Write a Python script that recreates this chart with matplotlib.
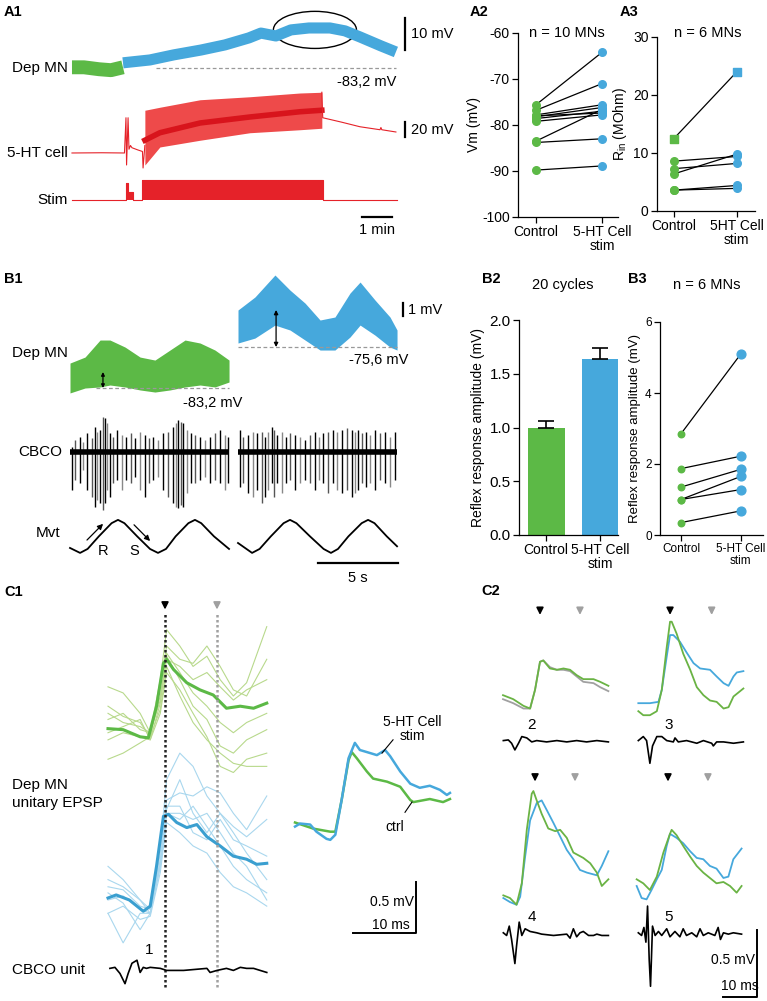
import numpy as np
import matplotlib
matplotlib.use('Agg')
import matplotlib.pyplot as plt
from matplotlib.patches import Ellipse

plt.rcParams['font.family'] = ['Liberation Sans', 'DejaVu Sans']
plt.rcParams['axes.unicode_minus'] = False

W, H = 767, 1001
GREEN = '#5cb946'
BLUE = '#46a8dc'
RED = '#e52229'
LGREEN = '#b8d98c'
LBLUE = '#a9d7ee'
GREY = '#a0a0a0'

# ---------------- data ----------------
# A1 : Dep MN membrane potential (min, mV)
mn_ctrl_t = [0, 0.4, 0.9, 1.3, 1.7]
mn_ctrl_v = [-83.0, -83.0, -83.6, -83.9, -83.0]
mn_stim_t = [1.7, 2.6, 3.4, 4.3, 5.1, 5.9, 6.3, 6.8, 7.3, 7.9, 8.6, 9.1, 9.6, 10.3, 10.8]
mn_stim_v = [-81.6, -80.7, -79.1, -77.6, -76.0, -73.8, -72.3, -73.2, -71.3, -70.7, -70.7,
             -71.6, -73.5, -76.3, -78.2]
# A1 : 5-HT cell (mV relative to rest)
ht_pre_t = [0, 1.0, 1.75, 1.8, 1.82, 1.87, 1.9, 1.95, 2.0, 2.2, 2.35, 2.37, 2.43]
ht_pre_v = [0, 0.3, 0, 47, -16, 47, 5, 10, 7, 4, 2, -20, 10]
ht_band_t = [2.43, 2.93, 4.27, 5.93, 7.6, 8.33]
ht_band_lo = [-16, 8, 17, 27, 31, 33]
ht_band_hi = [57, 61, 71, 75, 80, 81]
ht_band_mid = [17, 27, 40, 48, 55, 57]
ht_post_t = [8.33, 8.36, 9.0, 9.6, 10.27, 10.3, 10.33, 10.8]
ht_post_v = [81, 47, 41, 35, 31, 34, 31, 28]
# A1 : stimulation command
stim_t = [0, 1.8, 1.8, 1.87, 1.87, 2.03, 2.03, 2.33, 2.33, 8.37, 8.37, 10.83]
stim_v = [0, 0, 0.85, 0.85, 0.4, 0.4, 0, 0, 1, 1, 0, 0]

# A2 : Vm (mV)
a2_ctrl = [-75.6, -76.8, -77.8, -78.2, -78.6, -79.2, -83.5, -83.8, -89.8, -78.0]
a2_stim = [-64.2, -71.0, -75.6, -76.2, -77.0, -77.8, -76.6, -83.0, -88.9, -77.4]
# A3 : Rin (MOhm); first cell drawn as squares
a3_ctrl = [12.5, 8.6, 7.3, 6.4, 3.6, 3.6]
a3_stim = [24.0, 9.4, 8.2, 9.8, 4.4, 3.9]

# B1 : Dep MN envelope (s, mV above baseline)
b1g_t = [0, 0.94, 1.88, 2.5, 3.44, 4.38, 5.31, 6.25, 7.19, 8.13, 9.06, 9.94]
b1g_hi = [1.92, 2.38, 3.69, 3.69, 3.15, 2.38, 2.15, 2.92, 3.69, 3.46, 2.92, 2.15]
b1g_lo = [-0.38, 0, 0.08, 0.23, 0.08, -0.15, -0.31, -0.15, 0.08, 0.23, 0.08, 0.46]
b1b_t = [0, 1.06, 2.31, 3.25, 4.19, 5.13, 6.06, 7.0, 7.63, 8.56, 9.5, 9.94]
b1b_hi = [2.85, 3.85, 5.54, 4.38, 3.38, 2.08, 2.31, 4.15, 5.0, 3.62, 2.31, 1.31]
b1b_lo = [0.31, 0.69, 1.69, 1.31, 0.54, -0.23, -0.23, 0.77, 1.69, 0.92, 0, -0.23]
# B1 : CBCO spikes (s, up, down) control
cb_l_t = [0.10, 0.31, 0.63, 0.83, 1.08, 1.35, 1.56, 1.71, 1.88, 2.04, 2.19, 2.33, 2.5, 2.71,
          2.96, 3.23, 3.5, 3.79, 4.06, 4.38, 4.69, 4.96, 5.21, 5.52, 5.83, 6.15, 6.42, 6.63,
          6.77, 6.92, 7.08, 7.29, 7.54, 7.81, 8.13, 8.44, 8.75, 9.06, 9.38, 9.69, 9.9]
cb_l_up = [0.13, 0.3, 0.38, 0.26, 0.47, 0.34, 0.63, 0.51, 0.55, 0.88, 0.84, 0.72, 0.47, 0.38,
           0.55, 0.43, 0.38, 0.47, 0.34, 0.51, 0.43, 0.34, 0.38, 0.3, 0.47, 0.51, 0.63, 0.72,
           0.8, 0.76, 0.72, 0.55, 0.47, 0.43, 0.38, 0.3, 0.38, 0.47, 0.55, 0.43, 0.38]
cb_l_dn = [-0.95, -0.7, -0.78, -0.45, -0.95, -1.12, -1.37, -1.2, -1.28, -1.45, -1.28, -0.95,
           -1.12, -0.78, -0.7, -0.95, -0.7, -0.78, -0.62, -0.95, -1.12, -0.78, -0.7, -0.62,
           -0.95, -1.12, -1.28, -1.37, -1.41, -1.33, -1.37, -1.03, -0.78, -0.78, -0.7, -0.62,
           -0.78, -0.7, -0.78, -0.95, -0.78]
# B1 : CBCO spikes, 5-HT cell stim
cb_r_t = [0.13, 0.33, 0.65, 0.96, 1.21, 1.48, 1.69, 1.9, 2.1, 2.25, 2.46, 2.73, 3.0, 3.25,
          3.56, 3.88, 4.19, 4.5, 4.81, 5.08, 5.33, 5.65, 5.96, 6.21, 6.48, 6.79, 7.1, 7.31,
          7.52, 7.73, 8.0, 8.25, 8.56, 8.88, 9.19, 9.5, 9.81]
cb_r_up = [0.55, 0.38, 0.43, 0.51, 0.47, 0.51, 0.38, 0.51, 0.63, 0.55, 0.43, 0.51, 0.38, 0.47,
           0.43, 0.38, 0.3, 0.43, 0.51, 0.38, 0.47, 0.51, 0.55, 0.51, 0.55, 0.59, 0.55, 0.51,
           0.55, 0.47, 0.51, 0.43, 0.55, 0.47, 0.51, 0.38, 0.51]
cb_r_dn = [-0.87, -0.78, -1.03, -1.12, -0.95, -1.28, -1.12, -0.95, -0.78, -1.12, -0.78, -1.03,
           -0.78, -0.7, -0.95, -0.78, -0.7, -0.78, -0.95, -0.7, -0.78, -1.03, -0.78, -0.95,
           -1.03, -0.95, -1.12, -1.03, -0.95, -0.78, -0.87, -0.78, -0.95, -0.7, -0.78, -0.87,
           -0.7]
# B1 : movement
mvt_l_t = [0, 0.63, 1.1, 1.8, 2.6, 3.0, 3.4, 4.2, 5.0, 5.5, 6.0, 6.6, 7.4, 7.81, 8.2, 9.0, 9.94]
mvt_l_v = [0.15, 0, 0.12, 0.5, 0.9, 1.0, 0.9, 0.5, 0.12, 0, 0.12, 0.5, 0.9, 1.0, 0.9, 0.5, 0.12]
mvt_r_t = [0, 0.88, 1.35, 2.05, 2.85, 3.25, 3.65, 4.5, 5.35, 5.81, 6.25, 6.9, 7.73, 8.13, 8.53,
           9.3, 9.94]
mvt_r_v = [0.3, 0, 0.12, 0.5, 0.9, 1.0, 0.9, 0.5, 0.12, 0, 0.12, 0.5, 0.9, 1.0, 0.9, 0.5, 0.2]

# B2 : mean reflex amplitude (mV) and SEM
b2_mean = [1.0, 1.64]
b2_sem = [0.06, 0.1]
# B3 : reflex amplitude per MN (mV)
b3_ctrl = [2.85, 1.87, 1.35, 1.0, 1.0, 0.35]
b3_stim = [5.1, 2.22, 1.85, 1.65, 1.28, 0.68]

# C1 : unitary EPSPs (ms, mV)
c1_grid = [0, 2.4, 5.1, 6.7, 8.3, 9.3, 11.4, 13.5, 15.7, 17.8, 19.9, 22.0, 25.2]
c1_green_trials = [
    [0.42, 0.36, 0.16, -0.03, 0.49, 0.98, 0.82, 0.62, 0.72, 0.49, 0.33, 0.46, 1.01],
    [0.16, 0.07, 0.03, -0.03, 0.33, 0.72, 0.49, 0.23, 0.1, -0.16, -0.23, -0.1, 0],
    [-0.1, -0.03, -0.07, -0.1, 0.16, 0.56, 0.39, 0.16, -0.07, -0.36, -0.42, -0.29, -0.23],
    [-0.29, -0.23, -0.13, -0.07, 0.2, 0.62, 0.33, 0.07, -0.1, -0.23, -0.33, -0.36, -0.36],
    [0.1, 0.16, 0, -0.03, 0.29, 0.69, 0.62, 0.49, 0.56, 0.42, 0.29, 0.39, 0.49],
    [-0.03, 0.03, 0.1, -0.1, 0.26, 0.75, 0.56, 0.36, 0.23, 0.07, -0.03, 0.07, 0.16],
    [0.23, 0.13, 0.07, -0.07, 0.42, 0.82, 0.69, 0.65, 0.82, 0.62, 0.39, 0.33, 0.69],
]
c1_blue_trials = [
    [0.18, 0.11, -0.02, -0.11, 0.51, 1.16, 1.42, 1.29, 1.0, 0.83, 0.64, 0.44, 0.18],
    [-0.02, 0.02, -0.11, -0.15, 0.31, 0.83, 0.83, 0.77, 0.83, 0.64, 0.44, 0.31, -0.02],
    [-0.15, -0.08, -0.21, -0.18, 0.25, 0.74, 0.64, 0.51, 0.44, 0.25, 0.11, 0.05, -0.08],
    [0.31, 0.18, -0.02, -0.15, 0.44, 0.96, 1.03, 1.0, 1.09, 1.03, 0.83, 0.67, 1.0],
    [0.05, -0.05, -0.31, -0.15, 0.38, 0.9, 0.9, 0.64, 0.57, 0.77, 0.57, 0.51, 0.41],
    [0.11, 0.08, -0.08, -0.11, 0.34, 0.83, 0.77, 0.9, 0.7, 0.51, 0.31, 0.18, 0.05],
    [-0.15, -0.44, -0.15, -0.15, 0.31, 0.87, 1.16, 0.83, 0.64, 0.83, 0.7, 0.6, 0.77],
]
c1g_t = [0, 2.4, 5.1, 6.4, 7.7, 8.8, 9.3, 10.4, 12.5, 14.6, 16.7, 18.8, 21.0, 23.1, 25.2]
c1g_v = [0.01, 0, -0.07, -0.08, 0.23, 0.65, 0.69, 0.59, 0.46, 0.39, 0.34, 0.21, 0.23, 0.21, 0.26]
c1b_t = [0, 1.3, 3.4, 5.6, 6.7, 7.7, 8.8, 9.6, 10.9, 12.5, 14.1, 15.7, 17.8, 19.9, 22.0, 23.6, 25.2]
c1b_v = [0, 0.03, -0.02, -0.13, -0.08, 0.31, 0.8, 0.82, 0.74, 0.69, 0.72, 0.6, 0.51, 0.41, 0.38,
         0.33, 0.34]
c1u_t = [0.3, 1.1, 1.9, 2.7, 3.2, 3.8, 4.6, 5.1, 5.6, 6.1, 6.7, 8.3, 9.3, 12.0, 15.7, 16.2,
         17.3, 18.8, 19.9, 21.0, 22.0, 23.1, 25.2]
c1u_v = [0, 0.01, -0.05, -0.15, -0.05, 0.05, 0.08, -0.04, 0.01, 0, 0.01, 0, -0.02, -0.02, 0,
         -0.04, -0.02, 0, -0.02, 0.01, 0, 0, -0.04]
# C1 : averaged EPSPs superimposed
c1m_g_t = [0, 2.9, 5.6, 6.4, 7.4, 8.5, 9.0, 9.8, 11.4, 12.4, 14.6, 16.7, 18.3, 18.8, 21.4, 23.5, 24.6]
c1m_g_v = [0.09, 0.03, 0, 0, 0.31, 0.7, 0.78, 0.72, 0.59, 0.52, 0.49, 0.44, 0.31, 0.29, 0.32,
           0.29, 0.32]
c1m_b_t = [0, 0.8, 2.4, 3.4, 5.0, 5.6, 6.4, 7.4, 8.5, 9.5, 10.3, 11.4, 13.0, 14.3, 15.1, 16.7,
           18.3, 19.8, 21.4, 23.0, 24.1, 24.6]
c1m_b_v = [0.05, 0.08, 0.07, 0, -0.07, -0.08, -0.03, 0.31, 0.72, 0.87, 0.8, 0.78, 0.75, 0.8,
           0.74, 0.59, 0.47, 0.43, 0.45, 0.41, 0.36, 0.38]

# C2 : units 2-5 (ms, mV)
u2_t = [0, 3.1, 6.2, 8.2, 9.7, 11.2, 12.2, 14.2, 16.3, 18.3, 20.3, 22.3, 24.3, 27.4, 29.4, 31.9]
u2_green = [0.1, 0.07, 0.02, 0, 0.14, 0.35, 0.36, 0.3, 0.29, 0.3, 0.29, 0.25, 0.22, 0.22, 0.2, 0.17]
u2_grey = [0.07, 0.04, 0, 0, 0.14, 0.35, 0.36, 0.31, 0.29, 0.29, 0.28, 0.24, 0.2, 0.19, 0.16, 0.13]
u2_cb_t = [0.1, 1.6, 2.6, 3.6, 4.7, 5.7, 7.2, 8.7, 10.2, 13.2, 16.3, 19.3, 22.3, 25.3, 28.4, 31.9]
u2_cb_v = [0, 0.005, -0.02, -0.07, -0.02, 0.03, 0.02, -0.01, 0, -0.01, 0, -0.01, 0, -0.01, 0, -0.01]

u3_g_t = [0.1, 1.6, 3.6, 5.7, 7.2, 8.7, 9.7, 10.2, 11.7, 13.7, 15.8, 17.8, 19.8, 21.8, 23.8, 25.9,
          27.4, 28.9, 31.9]
u3_g_v = [-0.02, -0.05, -0.05, -0.02, 0.14, 0.46, 0.65, 0.65, 0.56, 0.41, 0.29, 0.16, 0.1, 0.06,
          0.05, 0, 0.01, 0.09, 0.15]
u3_b_t = [0.1, 3.6, 6.2, 7.2, 8.7, 9.7, 10.7, 12.7, 14.7, 16.8, 18.8, 21.8, 23.8, 25.9, 27.4,
          28.9, 29.9, 31.9]
u3_b_v = [0.04, 0.04, 0.05, 0.14, 0.39, 0.55, 0.55, 0.5, 0.42, 0.34, 0.3, 0.29, 0.24, 0.19, 0.17,
          0.24, 0.27, 0.28]
u3_cb_t = [0.1, 1.6, 2.6, 3.6, 4.4, 5.7, 7.2, 8.7, 10.7, 11.2, 12.2, 14.7, 17.8, 19.8, 22.3,
           22.8, 23.8, 25.9, 28.9, 31.9]
u3_cb_v = [0, 0.03, 0, -0.17, -0.04, 0.03, 0.03, 0, -0.01, 0.02, -0.01, 0, -0.02, 0, -0.02,
           -0.04, -0.01, -0.01, -0.02, -0.01]

u4_g_t = [0.1, 2.1, 4.1, 5.7, 7.2, 8.7, 9.2, 10.2, 11.7, 13.7, 15.8, 17.3, 19.3, 21.3, 24.3,
          26.4, 28.4, 29.9, 31.9]
u4_g_v = [0.07, 0.05, 0, 0.16, 0.56, 0.83, 0.85, 0.78, 0.68, 0.57, 0.55, 0.56, 0.5, 0.39, 0.35,
          0.31, 0.24, 0.14, 0.19]
u4_b_t = [0.1, 2.1, 4.1, 5.2, 6.7, 8.2, 10.2, 11.7, 13.2, 15.3, 17.3, 19.3, 21.3, 23.3, 25.4,
          28.4, 29.9, 31.9]
u4_b_v = [0.05, 0.02, 0, 0.06, 0.36, 0.63, 0.76, 0.78, 0.71, 0.61, 0.51, 0.41, 0.34, 0.26, 0.24,
          0.22, 0.29, 0.4]
u4_cb_t = [0.1, 1.1, 1.9, 2.6, 3.6, 4.1, 4.9, 5.7, 6.7, 8.2, 10.2, 11.7, 15.3, 19.3, 20.3, 21.3,
           22.3, 23.3, 24.3, 25.9, 27.4, 28.4, 29.9, 31.9]
u4_cb_v = [0.01, -0.01, 0.06, -0.04, -0.22, -0.09, 0.09, -0.01, 0.04, 0.02, 0.01, 0, -0.01, 0,
           -0.03, 0.04, -0.02, 0.01, 0.02, -0.01, -0.01, 0, -0.01, -0.01]

u5_g_t = [-0.4, 1.6, 3.6, 5.7, 7.7, 9.7, 10.2, 11.7, 13.7, 15.8, 17.8, 19.8, 21.8, 23.8, 25.9,
          27.9, 29.9, 31.4]
u5_g_v = [0.19, 0.16, 0.11, 0.21, 0.39, 0.53, 0.56, 0.52, 0.44, 0.36, 0.29, 0.24, 0.2, 0.16,
          0.17, 0.14, 0.09, 0.14]
u5_b_t = [-0.4, 1.1, 2.6, 4.1, 5.7, 7.2, 8.7, 9.7, 11.7, 13.7, 15.8, 17.8, 19.8, 21.8, 23.8,
          25.9, 27.4, 28.9, 31.4]
u5_b_v = [0.14, 0.05, 0.04, 0.11, 0.19, 0.26, 0.44, 0.53, 0.5, 0.46, 0.4, 0.35, 0.34, 0.29, 0.27,
          0.2, 0.21, 0.34, 0.42]
u5_cb_t = [0.1, 1.1, 1.8, 2.4, 2.9, 3.4, 3.8, 4.4, 5.2, 6.2, 7.2, 8.7, 9.7, 11.2, 12.7, 13.7,
           14.7, 16.3, 17.8, 18.8, 19.8, 21.3, 23.3, 24.3, 25.0, 25.9, 27.4, 28.9, 31.4]
u5_cb_v = [0.01, -0.01, 0.05, -0.06, 0.21, -0.19, -0.39, 0.06, -0.01, 0.02, -0.01, 0.04, -0.02,
           0.02, -0.02, 0.04, -0.01, 0.01, -0.02, 0.04, -0.01, 0.01, -0.01, 0.05, -0.04, 0.01, 0,
           0.01, 0]

# ---------------- figure ----------------
fig = plt.figure(figsize=(W / 100, H / 100), dpi=100)


def box_axes(x0, y0, x1, y1, xlim, ylim, off=True):
    # axes placed by its pixel box (top-left origin)
    ax = fig.add_axes([x0 / W, 1 - y1 / H, (x1 - x0) / W, (y1 - y0) / H])
    ax.set_xlim(*xlim)
    ax.set_ylim(*ylim)
    ax.patch.set_alpha(0)
    if off:
        ax.axis('off')
    return ax


def ftext(x, y, s, **kw):
    kw.setdefault('va', 'center')
    fig.text(x / W, 1 - y / H, s, **kw)


def cat_axes(x0, y0, x1, y1, xlim, ylim, yticks, labels, fs_tick, fs_x):
    ax = box_axes(x0, y0, x1, y1, xlim, ylim, off=False)
    for s in ['top', 'right']:
        ax.spines[s].set_visible(False)
    for s in ['left', 'bottom']:
        ax.spines[s].set_linewidth(0.9)
    ax.set_yticks(yticks)
    ax.set_xticks([0, 1])
    ax.set_xticklabels(labels, fontsize=fs_x, linespacing=1.0)
    ax.tick_params(direction='out', length=4, width=0.9, labelsize=fs_tick, pad=2)
    ax.tick_params(axis='x', labelsize=fs_x)
    return ax


def arrow(ax, x, y, color, dy):
    ax.annotate('', xy=(x, y), xytext=(x, y + dy),
                arrowprops=dict(arrowstyle='-|>', color=color, lw=1.3, mutation_scale=10))


# panel letters
for s, x, y in [('A1', 4, 12), ('A2', 470, 12), ('A3', 620, 12), ('B1', 4, 279),
                ('B2', 482, 279), ('B3', 628, 279), ('C1', 4, 592), ('C2', 481, 591)]:
    ftext(x, y, s, fontsize=10.5, fontweight='bold', ha='left')

# ---------- A1 ----------
xl_a1 = (-2.4, 12.27)
ax = box_axes(0, 0, 440, 90, xl_a1, (-90.1, -61.95))
ax.plot(mn_ctrl_t, mn_ctrl_v, color=GREEN, lw=10, solid_capstyle='butt')
ax.plot(mn_stim_t, mn_stim_v, color=BLUE, lw=8, solid_capstyle='butt')
ax.hlines(-83.2, 2.8, 10.8, colors='#999999', linestyles=(0, (3, 2)), lw=0.9)
ax.add_patch(Ellipse((8.1, -71.3), 2.77, 11.6, fill=False, lw=1.0, ec='black'))
ax.plot([11.1, 11.1], [-77.6, -67.6], color='k', lw=1.6)
ax.text(11.3, -72.6, '10 mV', fontsize=10.5, va='center')
ax.text(10.8, -87.6, '-83,2 mV', fontsize=10.5, ha='right', va='center')
ax.text(-0.13, -83.2, 'Dep MN', fontsize=11, ha='right', va='center')

ax = box_axes(0, 90, 440, 185, xl_a1, (-42.7, 84))
ax.plot(ht_pre_t, ht_pre_v, color=RED, lw=0.8)
ax.fill_between(ht_band_t, ht_band_lo, ht_band_hi, color='#ee4a4a', lw=0)
ax.plot(ht_band_t, ht_band_mid, color='#d8141c', lw=4)
ax.plot(ht_post_t, ht_post_v, color=RED, lw=0.8)
ax.plot([11.1, 11.1], [21.3, 41.3], color='k', lw=1.6)
ax.text(11.3, 31, '20 mV', fontsize=10.5, va='center')
ax.text(-0.13, 0, '5-HT cell', fontsize=11, ha='right', va='center')

ax = box_axes(0, 175, 440, 240, xl_a1, (-2, 1.25))
ax.plot(stim_t, stim_v, color=RED, lw=0.8)
ax.fill_between(stim_t, 0, stim_v, color=RED, lw=0)
ax.text(-0.13, 0, 'Stim', fontsize=11, ha='right', va='center')
ax.plot([9.67, 10.67], [-0.85, -0.85], color='k', lw=1.6)
ax.text(10.17, -1.5, '1 min', fontsize=10.5, ha='center', va='center')

# ---------- A2 ----------
ax = cat_axes(518, 33, 618, 217, (-0.273, 1.242), (-100, -60), [-100, -90, -80, -70, -60],
              ['Control', '5-HT Cell\nstim'], 10, 10)
for c, s in zip(a2_ctrl, a2_stim):
    ax.plot([0, 1], [c, s], color='k', lw=0.9, zorder=2)
ax.scatter([0] * len(a2_ctrl), a2_ctrl, s=30, color=GREEN, zorder=3, clip_on=False)
ax.scatter([1] * len(a2_stim), a2_stim, s=30, color=BLUE, zorder=3, clip_on=False)
ax.set_ylabel('Vm (mV)', fontsize=10, labelpad=1)
ftext(567, 33, 'n = 10 MNs', fontsize=10.5, ha='center')

# ---------- A3 ----------
ax = cat_axes(657, 37, 755, 211, (-0.27, 1.29), (0, 30), [0, 10, 20, 30],
              ['Control', '5HT Cell\nstim'], 10, 10)
for c, s in zip(a3_ctrl, a3_stim):
    ax.plot([0, 1], [c, s], color='k', lw=0.9, zorder=2)
ax.scatter([0] * 5, a3_ctrl[1:], s=30, color=GREEN, zorder=3, clip_on=False)
ax.scatter([1] * 5, a3_stim[1:], s=30, color=BLUE, zorder=3, clip_on=False)
ax.scatter([0], a3_ctrl[:1], s=30, marker='s', color=GREEN, zorder=3)
ax.scatter([1], a3_stim[:1], s=30, marker='s', color=BLUE, zorder=3)
ax.set_ylabel(r'R$_{\mathregular{in}}$ (MOhm)', fontsize=10, labelpad=3)
ftext(708, 33, 'n = 6 MNs', fontsize=10.5, ha='center')

# ---------- B1 ----------
xl_b1 = (-4.375, 23.125)
off_t, off_v = 10.5, 3.15
ax = box_axes(0, 255, 440, 420, xl_b1, (-2.46, 10.23))
ax.fill_between(b1g_t, b1g_lo, b1g_hi, color=GREEN, lw=0)
ax.fill_between(np.array(b1b_t) + off_t, np.array(b1b_lo) + off_v, np.array(b1b_hi) + off_v,
                color=BLUE, lw=0)
ax.hlines(0, 1.6, 9.94, colors='#999999', linestyles=(0, (3, 2)), lw=0.9)
ax.hlines(off_v, off_t, off_t + 9.94, colors='#999999', linestyles=(0, (3, 2)), lw=0.9)
ax.annotate('', xy=(2.06, 0), xytext=(2.06, 1.23),
            arrowprops=dict(arrowstyle='<|-|>', color='k', lw=0.9, mutation_scale=5,
                            shrinkA=0, shrinkB=0))
ax.annotate('', xy=(12.88, off_v), xytext=(12.88, off_v + 2.85),
            arrowprops=dict(arrowstyle='<|-|>', color='k', lw=0.9, mutation_scale=6,
                            shrinkA=0, shrinkB=0))
ax.text(8.94, -1.15, '-83,2 mV', fontsize=10.5, ha='center', va='center')
ax.text(19.3, 2.15, '-75,6 mV', fontsize=10.5, ha='center', va='center')
ax.text(-0.13, 2.69, 'Dep MN', fontsize=11, ha='right', va='center')
ax.plot([20.8, 20.8], [5.54, 6.54], color='k', lw=1.6)
ax.text(21.1, 6.0, '1 mV', fontsize=10.5, va='center')

ax = box_axes(0, 400, 440, 520, xl_b1, (-1.7, 1.3))
spk_col = ['k', '#555555', 'k', '#888888']
ax.vlines(cb_l_t, cb_l_dn, cb_l_up, colors=[spk_col[i % 4] for i in range(len(cb_l_t))], lw=1.0)
ax.vlines(np.array(cb_r_t) + off_t, cb_r_dn, cb_r_up,
          colors=[spk_col[i % 4] for i in range(len(cb_r_t))], lw=1.0)
ax.hlines(0, 0, 9.94, colors='k', lw=4)
ax.hlines(0, off_t, off_t + 9.94, colors='k', lw=4)
ax.text(-0.5, 0, 'CBCO', fontsize=11, ha='right', va='center')

ax = box_axes(0, 505, 440, 580, xl_b1, (-0.82, 1.45))
ax.plot(mvt_l_t, mvt_l_v, color='k', lw=1.3)
ax.plot(np.array(mvt_r_t) + off_t, mvt_r_v, color='k', lw=1.3)
ax.annotate('', xy=(2.19, 0.94), xytext=(0.94, 0.33),
            arrowprops=dict(arrowstyle='-|>', color='k', lw=0.9, mutation_scale=8))
ax.annotate('', xy=(5.13, 0.30), xytext=(3.88, 0.91),
            arrowprops=dict(arrowstyle='-|>', color='k', lw=0.9, mutation_scale=8))
ax.text(2.06, 0.05, 'R', fontsize=10.5, ha='center', va='center')
ax.text(4.0, 0.05, 'S', fontsize=10.5, ha='center', va='center')
ax.text(-0.63, 0.6, 'Mvt', fontsize=11, ha='right', va='center')
ax.plot([15.5, 20.5], [-0.3, -0.3], color='k', lw=1.6)
ax.text(18.0, -0.76, '5 s', fontsize=10.5, ha='center', va='center')

# ---------- B2 ----------
ax = cat_axes(519, 320, 618, 535, (-0.5, 1.33), (0, 2), [0, 0.5, 1.0, 1.5, 2.0],
              ['Control', '5-HT Cell\nstim'], 11, 10)
ax.yaxis.set_major_formatter(plt.FormatStrFormatter('%.1f'))
ax.bar([0, 1], b2_mean, width=0.685, color=[GREEN, BLUE], zorder=2)
ax.errorbar([0, 1], b2_mean, yerr=[[0, 0], b2_sem], fmt='none', ecolor='k', elinewidth=1.2,
            capsize=6, capthick=1.2, zorder=3)
ax.set_ylabel('Reflex response amplitude (mV)', fontsize=10, labelpad=3)
ftext(563, 285, '20 cycles', fontsize=10.5, ha='center')

# ---------- B3 ----------
ax = cat_axes(660, 322, 763, 535, (-0.35, 1.37), (0, 6), [0, 2, 4, 6],
              ['Control', '5-HT Cell\nstim'], 8.5, 8.5)
for c, s in zip(b3_ctrl, b3_stim):
    ax.plot([0, 1], [c, s], color='k', lw=0.9, zorder=2)
ax.scatter([0] * len(b3_ctrl), b3_ctrl, s=22, color=GREEN, zorder=3, clip_on=False)
ax.scatter([1] * len(b3_stim), b3_stim, s=40, color=BLUE, zorder=3, clip_on=False)
ax.set_ylabel('Reflex response amplitude (mV)', fontsize=9.5, labelpad=3)
ftext(707, 285, 'n = 6 MNs', fontsize=10.5, ha='center')

# ---------- C1 left ----------
g_off = 1.65
ax = box_axes(100, 595, 280, 1000, (-1.27, 27.3), (-1.0, 2.97))
for tr in c1_green_trials:
    ax.plot(c1_grid, np.array(tr) + g_off, color=LGREEN, lw=0.8)
for tr in c1_blue_trials:
    ax.plot(c1_grid, tr, color=LBLUE, lw=0.8)
ax.plot(c1g_t, np.array(c1g_v) + g_off, color=GREEN, lw=2.2)
ax.plot(c1b_t, c1b_v, color='#3a9fd0', lw=2.2)
ax.vlines(9.05, -0.87, 2.8, colors='#222222', linestyles=(0, (1, 1)), lw=1.8)
ax.vlines(17.3, -0.87, 2.8, colors=GREY, linestyles=(0, (1, 1)), lw=1.8)
arrow(ax, 9.05, 2.8, 'k', 0.12)
arrow(ax, 17.3, 2.8, GREY, 0.12)
ax.plot(c1u_t, np.array(c1u_v) - 0.69, color='k', lw=1.2)
ax.text(6.5, -0.51, '1', fontsize=11, ha='center', va='center')
ftext(12, 794, 'Dep MN\nunitary EPSP', fontsize=11, ha='left', linespacing=1.35)
ftext(12, 970, 'CBCO unit', fontsize=11, ha='left')

# ---------- C1 middle ----------
ax = box_axes(285, 700, 460, 945, (-1.59, 26.19), (-1.11, 1.29))
ax.plot(c1m_g_t, c1m_g_v, color=GREEN, lw=1.8)
ax.plot(c1m_b_t, c1m_b_v, color=BLUE, lw=1.8)
ax.text(18.57, 1.01, '5-HT Cell\nstim', fontsize=10, ha='center', va='center', linespacing=1.0)
ax.plot([15.56, 13.81], [0.9, 0.77], color='k', lw=0.8)
ax.text(15.87, 0.05, 'ctrl', fontsize=10, ha='center', va='center')
ax.plot([17.46, 18.57], [0.19, 0.29], color='k', lw=0.8)
ax.plot([9.21, 19.21, 19.21], [-0.99, -0.99, -0.49], color='k', lw=1.4)
ax.text(18.9, -0.69, '0.5 mV', fontsize=10, ha='right', va='center')
ax.text(15.2, -0.91, '10 ms', fontsize=10, ha='center', va='center')

# ---------- C2 ----------
row1 = (-0.61, 0.85)
row2 = (-0.72, 0.97)
ax = box_axes(495, 595, 615, 790, (-2.42, 33.9), row1)
ax.plot(u2_t, u2_grey, color=GREY, lw=1.3)
ax.plot(u2_t, u2_green, color='#6ab344', lw=1.3)
ax.plot(u2_cb_t, np.array(u2_cb_v) - 0.24, color='k', lw=1.2)
ax.text(8.7, -0.12, '2', fontsize=11, ha='center', va='center')
arrow(ax, 11.2, 0.68, 'k', 0.08)
arrow(ax, 23.3, 0.68, GREY, 0.08)

ax = box_axes(630, 595, 750, 790, (-2.42, 33.9), row1)
ax.plot(u3_b_t, u3_b_v, color=BLUE, lw=1.3)
ax.plot(u3_g_t, u3_g_v, color='#6ab344', lw=1.3)
ax.plot(u3_cb_t, np.array(u3_cb_v) - 0.24, color='k', lw=1.2)
ax.text(9.4, -0.12, '3', fontsize=11, ha='center', va='center')
arrow(ax, 9.7, 0.68, 'k', 0.08)
arrow(ax, 22.3, 0.68, GREY, 0.08)

ax = box_axes(495, 775, 615, 1001, (-2.42, 33.9), row2)
ax.plot(u4_b_t, u4_b_v, color=BLUE, lw=1.3)
ax.plot(u4_g_t, u4_g_v, color='#6ab344', lw=1.3)
ax.plot(u4_cb_t, np.array(u4_cb_v) - 0.22, color='k', lw=1.2)
ax.text(8.7, -0.09, '4', fontsize=11, ha='center', va='center')
arrow(ax, 9.7, 0.9, 'k', 0.08)
arrow(ax, 21.8, 0.9, GREY, 0.08)

ax = box_axes(630, 775, 765, 1001, (-2.42, 38.5), row2)
ax.plot(u5_b_t, u5_b_v, color=BLUE, lw=1.3)
ax.plot(u5_g_t, u5_g_v, color='#6ab344', lw=1.3)
ax.plot(u5_cb_t, np.array(u5_cb_v) - 0.22, color='k', lw=1.2)
ax.text(9.4, -0.09, '5', fontsize=11, ha='center', va='center')
arrow(ax, 9.1, 0.9, 'k', 0.08)
arrow(ax, 21.2, 0.9, GREY, 0.08)
ax.plot([25.8, 36.1, 36.1], [-0.69, -0.69, -0.19], color='k', lw=1.4)
ax.text(35.5, -0.41, '0.5 mV', fontsize=10, ha='right', va='center')
ax.text(30.9, -0.61, '10 ms', fontsize=10, ha='center', va='center')

fig.savefig('out.png', dpi=100)
